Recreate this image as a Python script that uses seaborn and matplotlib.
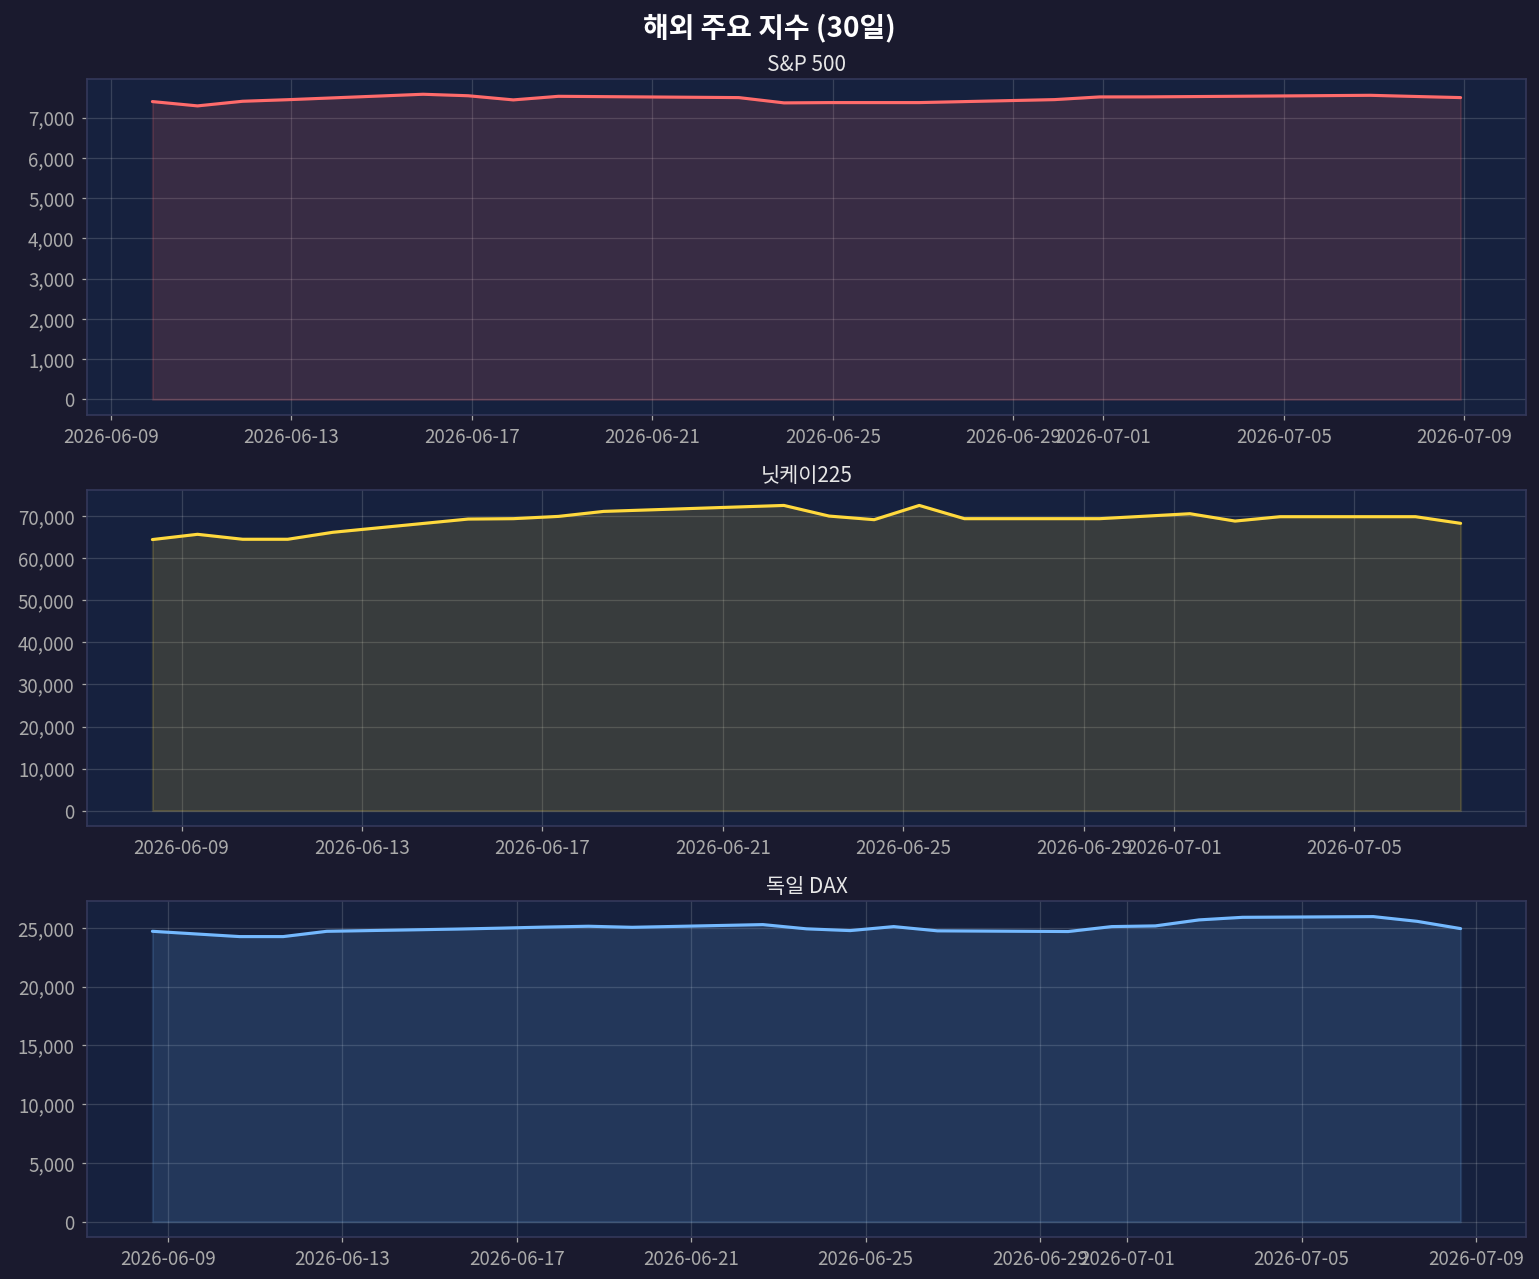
import matplotlib
matplotlib.use('Agg')
import matplotlib.pyplot as plt
import matplotlib.dates as mdates
import matplotlib.ticker as mticker
import seaborn as sns
import pandas as pd

# ---- data ----
sp_dates = ['2026-06-09', '2026-06-10', '2026-06-11', '2026-06-12', '2026-06-15',
            '2026-06-16', '2026-06-17', '2026-06-18', '2026-06-22', '2026-06-23',
            '2026-06-24', '2026-06-25', '2026-06-26', '2026-06-29', '2026-06-30',
            '2026-07-01', '2026-07-02', '2026-07-06', '2026-07-07', '2026-07-08']
sp_values = [7403, 7296, 7411, 7450, 7585,
             7548, 7445, 7534, 7502, 7371,
             7378, 7378, 7378, 7452, 7519,
             7520, 7527, 7559, 7530, 7502]

nk_dates = ['2026-06-08', '2026-06-09', '2026-06-10', '2026-06-11', '2026-06-12',
            '2026-06-15', '2026-06-16', '2026-06-17', '2026-06-18', '2026-06-22',
            '2026-06-23', '2026-06-24', '2026-06-25', '2026-06-26', '2026-06-29',
            '2026-07-01', '2026-07-02', '2026-07-03', '2026-07-06', '2026-07-07']
nk_values = [64490, 65740, 64560, 64560, 66220,
             69370, 69460, 70000, 71190, 72610,
             70080, 69220, 72610, 69460, 69460,
             70640, 68890, 69930, 69930, 68350]

dax_dates = ['2026-06-08', '2026-06-10', '2026-06-11', '2026-06-12', '2026-06-15',
             '2026-06-16', '2026-06-17', '2026-06-18', '2026-06-19', '2026-06-22',
             '2026-06-23', '2026-06-24', '2026-06-25', '2026-06-26', '2026-06-29',
             '2026-06-30', '2026-07-01', '2026-07-02', '2026-07-03', '2026-07-06',
             '2026-07-07', '2026-07-08']
dax_values = [24710, 24260, 24260, 24710, 24900,
              24980, 25070, 25140, 25050, 25280,
              24920, 24770, 25110, 24750, 24690,
              25110, 25170, 25680, 25900, 25960,
              25560, 24940]

titles = ['S&P 500', '닛케이225', '독일 DAX']
colors = ['#ff6b6b', '#ffd93d', '#74b9ff']
hours = [22.0, 8.5, 15.5]
y_steps = [1000, 10000, 5000]
suptitle = '해외 주요 지수 (30일)'

# ---- style ----
sns.set_theme(style='darkgrid')
plt.rcParams['font.family'] = ['Noto Sans CJK KR', 'DejaVu Sans']
plt.rcParams['axes.unicode_minus'] = False

W, H, DPI = 1539, 1279, 150
fig, axes = plt.subplots(3, 1, figsize=(W / DPI, H / DPI), dpi=DPI)
fig.patch.set_facecolor('#1a1a2e')
fig.subplots_adjust(left=87 / W, right=1526 / W, top=1 - 79 / H,
                    bottom=1 - 1237 / H, hspace=0.225)

series = [(sp_dates, sp_values), (nk_dates, nk_values), (dax_dates, dax_values)]

for ax, (dates, vals), title, color, hr, step in zip(axes, series, titles,
                                                      colors, hours, y_steps):
    df = pd.DataFrame({'date': pd.to_datetime(dates) + pd.Timedelta(hours=hr),
                       'value': vals})
    ax.set_facecolor('#16213e')
    sns.lineplot(data=df, x='date', y='value', ax=ax, color=color, linewidth=1.5)
    ax.fill_between(df['date'], df['value'], color=color, alpha=0.15)
    ax.set_title(title, color='#e6e6e6', fontsize=10, pad=4)
    ax.set_xlabel('')
    ax.set_ylabel('')
    ax.grid(True, color='white', alpha=0.15, linewidth=0.6)
    ax.tick_params(axis='both', colors='#aaaaaa', labelsize=9, length=2.5,
                   width=0.6, bottom=True, left=True)
    for sp in ax.spines.values():
        sp.set_visible(True)
        sp.set_color('#34385a')
        sp.set_linewidth(0.8)
    ax.xaxis.set_major_locator(mdates.DayLocator(bymonthday=range(1, 32, 4)))
    ax.xaxis.set_major_formatter(mdates.DateFormatter('%Y-%m-%d'))
    ax.yaxis.set_major_locator(mticker.MultipleLocator(step))
    ax.yaxis.set_major_formatter(mticker.StrMethodFormatter('{x:,.0f}'))
    ax.margins(x=0.05, y=0.05)

fig.suptitle(suptitle, color='white', fontsize=13.4, fontweight='bold',
             y=1 - 28 / H, va='center')

fig.savefig('out.png', dpi=DPI, facecolor=fig.get_facecolor())
